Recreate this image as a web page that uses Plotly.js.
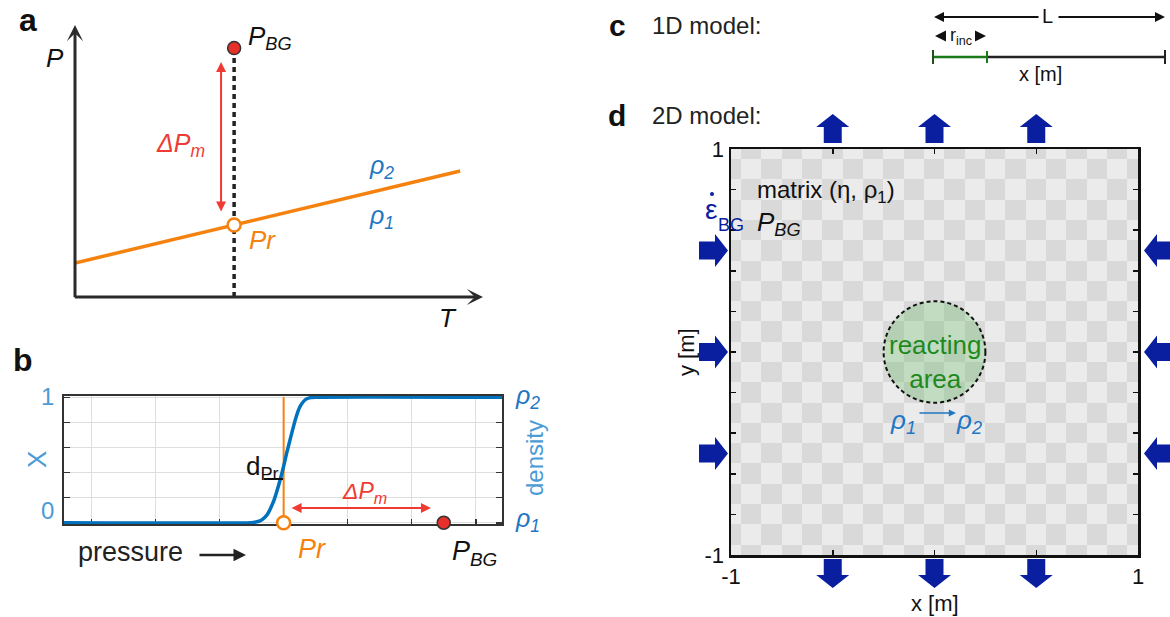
<!DOCTYPE html>
<html><head><meta charset="utf-8">
<script src="https://cdn.plot.ly/plotly-3.0.1.min.js"></script>
<style>html,body{margin:0;padding:0;background:#fff}#chart{width:1170px;height:617px}</style>
</head><body><div id="chart"></div>
<script>
// ---------- DATA ----------
// panel a : phase diagram (T, P)
const aLineT = [0, 9.44];
const aLineP = [1.25, 4.63];
const aTemp = 3.9;          // temperature of the model
const aPbg = 9.15;          // background pressure
const aPr = 2.65;           // reaction pressure on the line
const aArrowP = [3.09, 8.64];
const aArrowT = 3.58;
// panel b : reaction progress X vs pressure
const bPressure = [-0.43, 2.5, 2.55, 2.6, 2.65, 2.7, 2.75, 2.8, 2.85, 2.9, 2.95, 3.0, 3.05, 3.1, 3.15, 3.2, 3.25, 3.3, 3.35, 3.4, 3.5, 6.41];
const bX =        [0,     0,   0.004, 0.01, 0.02, 0.04, 0.07, 0.12, 0.18, 0.26, 0.35, 0.45, 0.56, 0.66, 0.76, 0.85, 0.92, 0.96, 0.985, 0.995, 1, 1];
const bPr = 3.0;
const bPbg = 5.5;
const bArrowP = [3.1, 5.3];
const bArrowX = 0.117;
const bTicksP = [0, 1, 2, 3, 4, 5, 6];
const bTicksX = [0, 0.2, 0.4, 0.6, 0.8, 1];
// panel d : 2D model
const dTicksX = [-1, -0.5, 0, 0.5, 1];
const dTickTextX = ['-1', '', '', '', '1'];
const dTicksY = [-1, -0.8, -0.6, -0.4, -0.2, 0, 0.2, 0.4, 0.6, 0.8, 1];
const dTickTextY = ['-1', '', '', '', '', '', '', '', '', '', '1'];
const dCells = [-1, -0.9, -0.8, -0.7, -0.6, -0.5, -0.4, -0.3, -0.2, -0.1, 0, 0.1, 0.2, 0.3, 0.4, 0.5, 0.6, 0.7, 0.8, 0.9, 1];
const dArrowPos = [-0.5, 0, 0.5];
const dRadius = 0.25;

// ---------- helpers ----------
const W = 1170, H = 617;
const X = px => px / W;
const Y = py => 1 - py / H;
const FONT = 'Liberation Sans, Arial, Helvetica, sans-serif';
const ORANGE = '#f5820f', RED = '#ef3b33', BLUE = '#0072bd', TBLUE = '#1f77c4', LBLUE = '#4b9bd6', ABLUE = '#0a1f9f', GREEN = '#1e8a1e';

function txt(px, py, text, size, color, extra) {
  return Object.assign({xref: 'paper', yref: 'paper', x: X(px), y: Y(py), text: text, showarrow: false,
    font: {family: FONT, size: size, color: color || '#222'}, xanchor: 'center', yanchor: 'middle'}, extra || {});
}

// panel d pixel geometry (for decorations outside the axes)
const dL = 731, dR = 1138, dT = 149, dB = 555;
const dpx = v => dL + (v + 1) / 2 * (dR - dL);
const dpy = v => dT + (1 - v) / 2 * (dB - dT);

function blockArrow(bx, by, dx, dy) {
  const Ls = 16, Lh = 13, ws = 9, wh = 16.5;
  const nx = -dy, ny = dx;
  const pts = [
    [bx + nx * ws, by + ny * ws],
    [bx + dx * Ls + nx * ws, by + dy * Ls + ny * ws],
    [bx + dx * Ls + nx * wh, by + dy * Ls + ny * wh],
    [bx + dx * (Ls + Lh), by + dy * (Ls + Lh)],
    [bx + dx * Ls - nx * wh, by + dy * Ls - ny * wh],
    [bx + dx * Ls - nx * ws, by + dy * Ls - ny * ws],
    [bx - nx * ws, by - ny * ws]
  ];
  return {type: 'path', xref: 'paper', yref: 'paper', layer: 'above',
    path: 'M' + pts.map(p => X(p[0]).toFixed(5) + ',' + Y(p[1]).toFixed(5)).join('L') + 'Z',
    fillcolor: ABLUE, line: {width: 0}};
}

// checkerboard background
const checker = dCells.map((yv, j) => dCells.map((xv, i) => (i + j) % 2));

// ---------- TRACES ----------
const traces = [
  // panel a
  {x: [aTemp, aTemp], y: [0, aPbg], xaxis: 'x', yaxis: 'y', mode: 'lines',
   line: {color: '#222', width: 3.5, dash: '5px,4px'}, hoverinfo: 'skip'},
  {x: aLineT, y: aLineP, xaxis: 'x', yaxis: 'y', mode: 'lines', line: {color: ORANGE, width: 3.5}, hoverinfo: 'skip'},
  {x: [aTemp], y: [aPbg], xaxis: 'x', yaxis: 'y', mode: 'markers', cliponaxis: false,
   marker: {size: 13, color: '#e8302a', line: {color: '#333', width: 1.5}}, hoverinfo: 'skip'},
  {x: [aTemp], y: [aPr], xaxis: 'x', yaxis: 'y', mode: 'markers', cliponaxis: false,
   marker: {size: 13, color: '#fff', line: {color: ORANGE, width: 2.5}}, hoverinfo: 'skip'},
  // panel b
  {x: [bPr, bPr], y: [0, 1], xaxis: 'x2', yaxis: 'y2', mode: 'lines', line: {color: ORANGE, width: 2}, hoverinfo: 'skip'},
  {x: bPressure, y: bX, xaxis: 'x2', yaxis: 'y2', mode: 'lines', line: {color: BLUE, width: 3.5, shape: 'spline', smoothing: 0.6}, hoverinfo: 'skip'},
  {x: [bPr], y: [0], xaxis: 'x2', yaxis: 'y2', mode: 'markers', cliponaxis: false,
   marker: {size: 13, color: '#fff', line: {color: ORANGE, width: 2.5}}, hoverinfo: 'skip'},
  {x: [bPbg], y: [0], xaxis: 'x2', yaxis: 'y2', mode: 'markers', cliponaxis: false,
   marker: {size: 13, color: '#e8302a', line: {color: '#333', width: 1.5}}, hoverinfo: 'skip'},
  // panel d
  {type: 'heatmap', x: dCells, y: dCells, z: checker, xaxis: 'x3', yaxis: 'y3', showscale: false,
   colorscale: [[0, '#ebebeb'], [1, '#d9d9d9']], hoverinfo: 'skip', zsmooth: false}
];

// ---------- SHAPES ----------
const shapes = [
  // reacting area
  {type: 'circle', xref: 'x3', yref: 'y3', x0: -dRadius, x1: dRadius, y0: -dRadius, y1: dRadius,
   fillcolor: 'rgba(98,185,98,0.30)', line: {color: '#111', width: 2, dash: '4px,3px'}},
  // panel c 1D model line
  {type: 'line', xref: 'paper', yref: 'paper', x0: X(987), x1: X(1165), y0: Y(57), y1: Y(57), line: {color: '#222', width: 2.5}},
  {type: 'line', xref: 'paper', yref: 'paper', x0: X(933), x1: X(987), y0: Y(57), y1: Y(57), line: {color: '#1a7a1a', width: 2.5}},
  {type: 'line', xref: 'paper', yref: 'paper', x0: X(933), x1: X(933), y0: Y(50), y1: Y(64), line: {color: '#1f4f1f', width: 2}},
  {type: 'line', xref: 'paper', yref: 'paper', x0: X(987), x1: X(987), y0: Y(51), y1: Y(63), line: {color: '#1a7a1a', width: 2}},
  {type: 'line', xref: 'paper', yref: 'paper', x0: X(1165), x1: X(1165), y0: Y(50), y1: Y(64), line: {color: '#222', width: 2}},
  // d_Pr marker in panel b
  {type: 'line', xref: 'paper', yref: 'paper', x0: X(264), x1: X(283), y0: Y(479), y1: Y(479), line: {color: '#111', width: 2}},
  // dot of the strain-rate symbol
  {type: 'circle', xref: 'paper', yref: 'paper', x0: X(710), x1: X(714), y0: Y(196), y1: Y(192), fillcolor: ABLUE, line: {width: 0}}
];
dArrowPos.forEach(v => {
  shapes.push(blockArrow(dpx(v), dT - 6, 0, -1));
  shapes.push(blockArrow(dpx(v), dB + 4, 0, 1));
  shapes.push(blockArrow(dL - 32, dpy(v), 1, 0));
  shapes.push(blockArrow(W + 3, dpy(v), -1, 0));
});

// ---------- ANNOTATIONS ----------
const ann = [
  // panel letters
  txt(28, 20, '<b>a</b>', 32, '#111'),
  txt(23, 360, '<b>b</b>', 32, '#111'),
  txt(617, 25, '<b>c</b>', 30, '#111'),
  txt(617, 115, '<b>d</b>', 30, '#111'),
  // panel a axes arrows
  {xref: 'x', yref: 'y', axref: 'x', ayref: 'y', x: 10, y: 0, ax: -0.04, ay: 0, text: '', showarrow: true,
   arrowhead: 3, arrowsize: 0.9, arrowwidth: 3, arrowcolor: '#2a2a2a'},
  {xref: 'x', yref: 'y', axref: 'x', ayref: 'y', x: 0, y: 10, ax: 0, ay: -0.06, text: '', showarrow: true,
   arrowhead: 3, arrowsize: 0.9, arrowwidth: 3, arrowcolor: '#2a2a2a'},
  // delta P arrow panel a
  {xref: 'x', yref: 'y', axref: 'x', ayref: 'y', x: aArrowT, y: aArrowP[1], ax: aArrowT, ay: aArrowP[0], text: '', showarrow: true,
   arrowside: 'end+start', arrowhead: 2, startarrowhead: 2, arrowsize: 1, startarrowsize: 1, arrowwidth: 2, arrowcolor: RED},
  // panel a labels
  txt(55, 58, '<i>P</i>', 26, '#111'),
  txt(246, 37, '<i>P</i><sub><i>BG</i></sub>', 26, '#111', {xanchor: 'left'}),
  txt(180, 145, '<i>ΔP</i><sub><i>m</i></sub>', 25, RED),
  txt(381, 167, '<i>ρ</i><sub><i>2</i></sub>', 25, TBLUE),
  txt(381, 217, '<i>ρ</i><sub><i>1</i></sub>', 25, TBLUE),
  txt(262, 240, '<i>Pr</i>', 26, ORANGE),
  txt(448, 318, '<i>T</i>', 26, '#111'),
  // panel b
  {xref: 'x2', yref: 'y2', axref: 'x2', ayref: 'y2', x: bArrowP[1], y: bArrowX, ax: bArrowP[0], ay: bArrowX, text: '', showarrow: true,
   arrowside: 'end+start', arrowhead: 2, startarrowhead: 2, arrowsize: 1, startarrowsize: 1, arrowwidth: 2, arrowcolor: RED},
  txt(47, 396, '1', 24, LBLUE),
  txt(47, 510, '0', 24, LBLUE),
  txt(37, 460, 'X', 26, LBLUE, {textangle: -90}),
  txt(527, 397, '<i>ρ</i><sub><i>2</i></sub>', 25, TBLUE),
  txt(527, 520, '<i>ρ</i><sub><i>1</i></sub>', 25, TBLUE),
  txt(534, 458, 'density', 24, LBLUE, {textangle: -90}),
  txt(262, 467, 'd<sub>Pr</sub>', 26, '#111'),
  txt(364, 492, '<i>ΔP</i><sub><i>m</i></sub>', 23, RED),
  txt(130, 552, 'pressure', 27, '#222'),
  {xref: 'paper', yref: 'paper', x: X(246), y: Y(555), ax: -48, ay: 0, text: '', showarrow: true,
   arrowhead: 2, arrowsize: 1, arrowwidth: 2.5, arrowcolor: '#222'},
  txt(312, 549, '<i>Pr</i>', 27, ORANGE),
  txt(450, 553, '<i>P</i><sub><i>BG</i></sub>', 27, '#111', {xanchor: 'left'}),
  // panel c
  txt(650, 25, '1D model:', 24, '#222', {xanchor: 'left'}),
  {xref: 'paper', yref: 'paper', x: X(934), y: Y(17), ax: 106, ay: 0, text: '', showarrow: true,
   arrowhead: 2, arrowsize: 1, arrowwidth: 2, arrowcolor: '#111'},
  {xref: 'paper', yref: 'paper', x: X(1165), y: Y(17), ax: -108, ay: 0, text: '', showarrow: true,
   arrowhead: 2, arrowsize: 1, arrowwidth: 2, arrowcolor: '#111'},
  txt(1047, 16, 'L', 20, '#111'),
  {xref: 'paper', yref: 'paper', x: X(935), y: Y(36), ax: 6, ay: 0, text: '', showarrow: true,
   arrowhead: 2, arrowsize: 1.1, arrowwidth: 2, arrowcolor: '#111'},
  {xref: 'paper', yref: 'paper', x: X(986), y: Y(36), ax: -6, ay: 0, text: '', showarrow: true,
   arrowhead: 2, arrowsize: 1.1, arrowwidth: 2, arrowcolor: '#111'},
  txt(961, 36, 'r<sub>inc</sub>', 18, '#111'),
  txt(1040, 74, 'x [m]', 20, '#111'),
  // panel d
  txt(650, 115, '2D model:', 24, '#222', {xanchor: 'left'}),
  txt(755, 192, 'matrix (η, ρ<sub>1</sub>)', 24, '#111', {xanchor: 'left'}),
  txt(755, 223, '<i>P</i><sub><i>BG</i></sub>', 26, '#111', {xanchor: 'left'}),
  txt(711, 209, 'ε', 28, ABLUE),
  txt(731, 225, 'BG', 18, ABLUE),
  txt(935, 362, 'reacting<br>area', 26, GREEN),
  txt(903, 421, '<i>ρ</i><sub><i>1</i></sub>', 26, TBLUE),
  txt(969, 421, '<i>ρ</i><sub><i>2</i></sub>', 26, TBLUE),
  {xref: 'paper', yref: 'paper', x: X(956), y: Y(413), ax: -38, ay: 0, text: '', showarrow: true,
   arrowhead: 2, arrowsize: 0.9, arrowwidth: 1.6, arrowcolor: TBLUE},
  txt(935, 603, 'x [m]', 22, '#111'),
  txt(686, 352, 'y [m]', 22, '#111', {textangle: -90})
];

// ---------- LAYOUT ----------
const layout = {
  width: W, height: H, margin: {l: 0, r: 0, t: 0, b: 0},
  paper_bgcolor: '#fff', plot_bgcolor: 'rgba(0,0,0,0)', showlegend: false,
  font: {family: FONT, color: '#222'},
  xaxis: {domain: [X(75), X(483)], range: [0, 10], visible: false, anchor: 'y'},
  yaxis: {domain: [Y(297), Y(25)], range: [0, 10], visible: false, anchor: 'x'},
  xaxis2: {domain: [X(64), X(502)], anchor: 'y2', range: [-0.43, 6.41], tickvals: bTicksP, showticklabels: false,
    ticks: 'inside', ticklen: 5, tickwidth: 1.5, tickcolor: '#333', showgrid: true, gridcolor: '#dedede', gridwidth: 1,
    showline: true, linecolor: '#333', linewidth: 2, mirror: true, zeroline: false, layer: 'below traces'},
  yaxis2: {domain: [Y(524), Y(396)], anchor: 'x2', range: [-0.01, 1.01], tickvals: bTicksX, showticklabels: false,
    ticks: 'inside', ticklen: 6, tickwidth: 1.5, tickcolor: '#333', showgrid: true, gridcolor: '#dedede', gridwidth: 1,
    showline: true, linecolor: '#333', linewidth: 2, mirror: 'ticks', zeroline: false, layer: 'below traces'},
  xaxis3: {domain: [X(dL), X(dR)], anchor: 'y3', range: [-1, 1], tickvals: dTicksX, ticktext: dTickTextX,
    ticks: 'inside', ticklen: 5, tickwidth: 1.5, tickcolor: '#111', showgrid: false, zeroline: false,
    showline: true, linecolor: '#111', linewidth: 2.5, mirror: 'ticks', tickfont: {size: 22, color: '#111'}, automargin: false},
  yaxis3: {domain: [Y(dB), Y(dT)], anchor: 'x3', range: [-1, 1], tickvals: dTicksY, ticktext: dTickTextY,
    ticks: 'inside', ticklen: 5, tickwidth: 1.5, tickcolor: '#111', showgrid: false, zeroline: false,
    showline: true, linecolor: '#111', linewidth: 2.5, mirror: 'ticks', tickfont: {size: 22, color: '#111'}, automargin: false},
  shapes: shapes,
  annotations: ann
};

Plotly.newPlot('chart', traces, layout, {staticPlot: true, displayModeBar: false});
</script></body></html>
